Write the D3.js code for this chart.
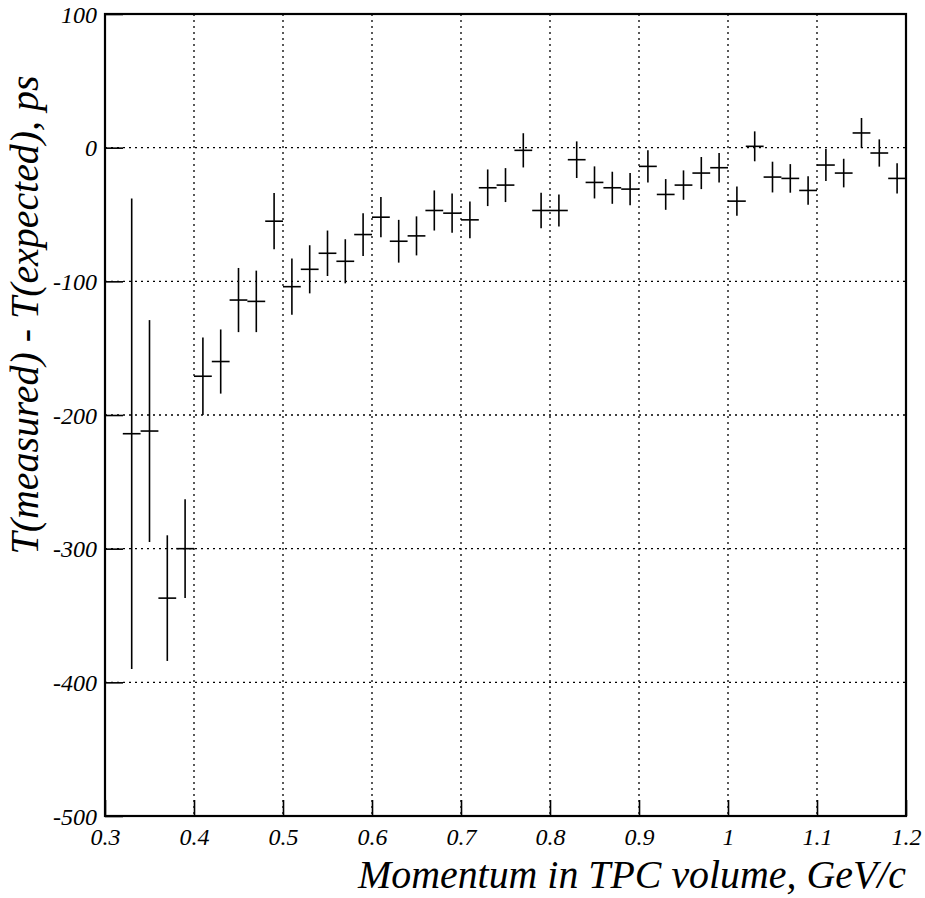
<!DOCTYPE html>
<html>
<head>
<meta charset="utf-8">
<script src="https://cdn.jsdelivr.net/npm/d3@7"></script>
<style>
  html, body { margin: 0; padding: 0; background: #fff; }
  svg { display: block; }
</style>
</head>
<body>
<svg id="chart" width="925" height="898"></svg>
<script>
// ---- data ----
const momentum = [0.33,0.35,0.37,0.39,0.41,0.43,0.45,0.47,0.49,0.51,0.53,0.55,0.57,0.59,0.61,0.63,0.65,0.67,0.69,0.71,0.73,0.75,0.77,0.79,0.81,0.83,0.85,0.87,0.89,0.91,0.93,0.95,0.97,0.99,1.01,1.03,1.05,1.07,1.09,1.11,1.13,1.15,1.17,1.19];
const deltaT = [-214,-212,-337,-300,-171,-160,-114,-115,-55,-104,-91,-79,-85,-65,-52,-70,-66,-47,-49,-54,-30,-28,-2,-47,-47,-9,-26,-30,-31,-14,-35,-28,-19,-15,-40,1,-22,-23,-32,-13,-19,11,-4,-23];
const deltaTErr = [176,83,47,37,29,24,24,23,21,21,18,17,16.5,16,15,16,14.6,15,14.7,13.7,13.7,12.7,12.8,13.3,12,13.7,12,12,12,12,11.5,11,12,11,11,11.2,11.5,10.7,10.7,12,10.7,11.2,10.2,11.3];
const binHalfWidth = 0.01;
const xTicks = [0.3,0.4,0.5,0.6,0.7,0.8,0.9,1.0,1.1,1.2];
const xTickLabels = ["0.3","0.4","0.5","0.6","0.7","0.8","0.9","1","1.1","1.2"];
const yTicks = [100,0,-100,-200,-300,-400,-500];
const yTickLabels = ["100","0","-100","-200","-300","-400","-500"];
const xTitle = "Momentum in TPC volume, GeV/c";
const yTitle = "T(measured) - T(expected), ps";

// ---- pick an installed serif face (measure against a monospace fallback) ----
const svg = d3.select("#chart");
function widthOf(family, s) {
  const t = svg.append("text").style("font-family", family).style("font-style", "italic")
    .attr("font-size", 40).text(s);
  const w = t.node().getComputedTextLength();
  t.remove();
  return w;
}
const probe = "Momentum WIlii 0123 GeV/c";
const monoW = widthOf("monospace", probe);
const candidates = ["Liberation Serif", "Times New Roman", "Tinos", "DejaVu Serif", "Noto Serif", "FreeSerif", "Nimbus Roman", "Nimbus Roman No9 L", "Times", "serif"];
let FONT = "serif";
for (const c of candidates) {
  const fam = c === "serif" ? "serif" : `"${c}", monospace`;
  if (Math.abs(widthOf(fam, probe) - monoW) > 0.5) { FONT = c === "serif" ? "serif" : `"${c}", serif`; break; }
}

// ---- layout ----
const L = 105, R = 906, T = 14, B = 816;
const x = d3.scaleLinear().domain([0.3, 1.2]).range([L, R]);
const y = d3.scaleLinear().domain([-500, 100]).range([B, T]);

function fitSize(sample, width, base) {
  const t = svg.append("text").style("font-family", FONT).style("font-style", "italic")
    .attr("font-size", base).text(sample);
  const w = t.node().getComputedTextLength();
  t.remove();
  return w > 0 ? base * width / w : base;
}
const tickFont = fitSize("100", 36, 24);
const titleFont = fitSize(xTitle, 548, 36);

// grid (dotted)
const grid = svg.append("g").attr("stroke", "#000").attr("stroke-width", 1.3)
  .attr("stroke-dasharray", "2,4");
grid.selectAll("line.gx").data(xTicks.slice(1, -1)).enter().append("line")
  .attr("x1", d => x(d)).attr("x2", d => x(d)).attr("y1", T).attr("y2", B);
grid.selectAll("line.gy").data(yTicks.slice(1, -1)).enter().append("line")
  .attr("y1", d => y(d)).attr("y2", d => y(d)).attr("x1", L).attr("x2", R);

// axes (ticks inward)
const xAxis = d3.axisBottom(x).tickValues(xTicks)
  .tickFormat((d, i) => xTickLabels[i]).tickSize(-16).tickPadding(12);
const gx = svg.append("g").attr("transform", `translate(0,${B})`).call(xAxis);
gx.attr("font-family", null).attr("font-size", null);
gx.select(".domain").remove();
gx.selectAll(".tick line").attr("stroke", "#000").attr("stroke-width", 1.6);
gx.selectAll(".tick text").attr("font-size", tickFont).attr("dy", "0.72em")
  .style("font-family", FONT).style("font-style", "italic");

const yAxis = d3.axisLeft(y).tickValues(yTicks)
  .tickFormat((d, i) => yTickLabels[i]).tickSize(-18).tickPadding(8);
const gy = svg.append("g").attr("transform", `translate(${L},0)`).call(yAxis);
gy.attr("font-family", null).attr("font-size", null);
gy.select(".domain").remove();
gy.selectAll(".tick line").attr("stroke", "#000").attr("stroke-width", 1.6);
gy.selectAll(".tick text").attr("font-size", tickFont).attr("dy", "0.34em")
  .style("font-family", FONT).style("font-style", "italic");

// frame
svg.append("rect").attr("x", L).attr("y", T).attr("width", R - L).attr("height", B - T)
  .attr("fill", "none").attr("stroke", "#000").attr("stroke-width", 2.2);

// error-bar crosses
const pts = momentum.map((m, i) => ({m, v: deltaT[i], e: deltaTErr[i]}));
const marks = svg.append("g").attr("stroke", "#000").attr("stroke-width", 1.6);
marks.selectAll("line.v").data(pts).enter().append("line")
  .attr("x1", d => x(d.m)).attr("x2", d => x(d.m))
  .attr("y1", d => y(Math.max(-500, d.v - d.e))).attr("y2", d => y(d.v + d.e));
marks.selectAll("line.h").data(pts).enter().append("line")
  .attr("x1", d => x(d.m - binHalfWidth)).attr("x2", d => x(d.m + binHalfWidth))
  .attr("y1", d => y(d.v)).attr("y2", d => y(d.v));

// titles
svg.append("text").attr("x", R).attr("y", 888).attr("text-anchor", "end")
  .style("font-family", FONT).style("font-style", "italic")
  .attr("font-size", titleFont).text(xTitle);
svg.append("text").attr("transform", `translate(38,315) rotate(-90)`)
  .attr("text-anchor", "middle")
  .style("font-family", FONT).style("font-style", "italic")
  .attr("font-size", titleFont).text(yTitle);
</script>
</body>
</html>
